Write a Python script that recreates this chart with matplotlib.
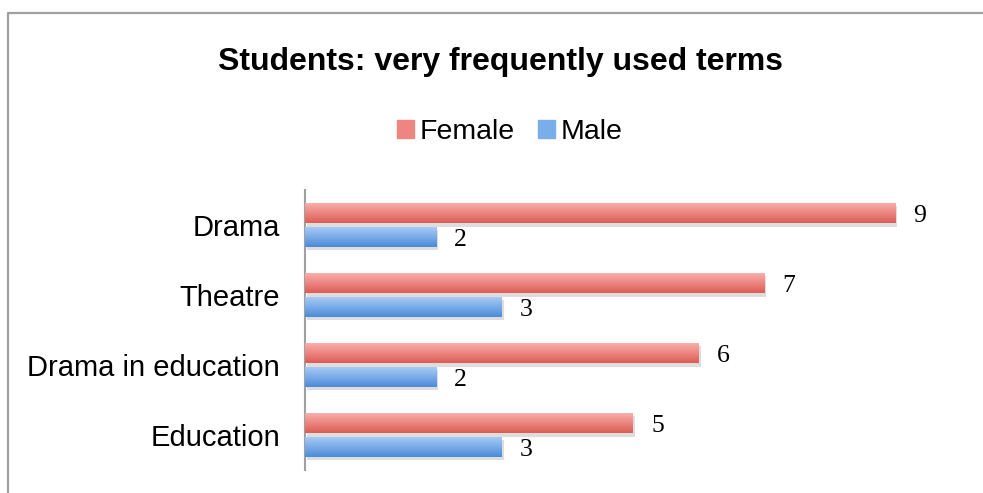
import matplotlib.pyplot as plt
import matplotlib.patheffects as pe
from matplotlib.lines import Line2D
from matplotlib.patches import Rectangle
from matplotlib.colors import to_rgb
import numpy as np

categories = ["Drama", "Theatre", "Drama in education", "Education"]
female = [9, 7, 6, 5]
male = [2, 3, 2, 3]

female_top, female_bot = "#FCB2AF", "#DC5C55"
male_top, male_bot = "#ABCEF7", "#4C8BD9"

plt.rcParams['font.family'] = ['Liberation Sans', 'DejaVu Sans']


def gradient_fill(ax, bar, top, bottom):
    x0, y0 = bar.get_x(), bar.get_y()
    x1, y1 = x0 + bar.get_width(), y0 + bar.get_height()
    t = np.linspace(0, 1, 64)[:, None, None]
    img = (1 - t) * np.array(to_rgb(top)) + t * np.array(to_rgb(bottom))
    im = ax.imshow(img, extent=(x0, x1, y0, y1), origin='upper',
                   aspect='auto', zorder=3, interpolation='bilinear')
    im.set_clip_path(bar)


fig = plt.figure(figsize=(9.83, 4.93), dpi=100)
ax = fig.add_axes([305 / 983, 23 / 493, 656 / 983, 280 / 493])

y = np.arange(len(categories))[::-1]
off = 0.171
h = 0.286
shadow = [pe.SimplePatchShadow(offset=(1.5, -2.5), shadow_rgbFace='#909090', alpha=0.3),
          pe.Normal()]

fb = ax.barh(y + off, female, height=h, color=female_bot, zorder=2,
             path_effects=shadow)
mb = ax.barh(y - off, male, height=h, color=male_bot, zorder=2,
             path_effects=shadow)
for bar in fb:
    gradient_fill(ax, bar, female_top, female_bot)
for bar in mb:
    gradient_fill(ax, bar, male_top, male_bot)

for bars, vals in ((fb, female), (mb, male)):
    for bar, v in zip(bars, vals):
        ax.annotate(str(v), (bar.get_width(), bar.get_y() + bar.get_height() / 2),
                    xytext=(13, -2), textcoords='offset points', ha='left',
                    va='center', fontsize=18.5, family='Liberation Serif')

ax.set_xlim(0, 10)
ax.set_ylim(-0.5, len(categories) - 0.5)
ax.set_yticks(y)
ax.set_yticklabels(categories, fontsize=21)
ax.tick_params(axis='y', length=0, pad=18)
ax.set_xticks([])
for s in ['top', 'right', 'bottom']:
    ax.spines[s].set_visible(False)
ax.spines['left'].set_color('#A0A0A0')
ax.spines['left'].set_linewidth(1.5)

fig.text(501 / 983, 1 - 62 / 493, "Students: very frequently used terms",
         ha='center', va='center', fontsize=23, fontweight='bold')

handles = [Rectangle((0, 0), 1, 1, color="#EE8580"),
           Rectangle((0, 0), 1, 1, color="#7AAEEA")]
fig.legend(handles, ["Female", "Male"], loc='center', ncol=2,
           bbox_to_anchor=(510 / 983, 1 - 132 / 493), frameon=False,
           fontsize=20.5, handlelength=0.6, handleheight=0.6,
           handletextpad=0.2, columnspacing=0.8)

# chart area border (top and left edges visible)
fig.add_artist(Line2D([7.5 / 983, 7.5 / 983, 1], [0, 1 - 12.5 / 493, 1 - 12.5 / 493],
                      transform=fig.transFigure, color='#A0A0A0', lw=1.6))

fig.savefig("out.png", dpi=100)
